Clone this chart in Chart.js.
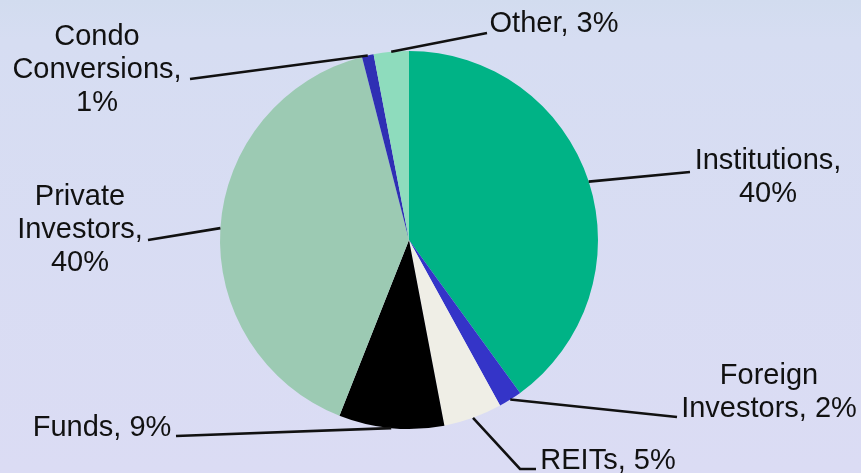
<!DOCTYPE html>
<html>
<head>
<meta charset="utf-8">
<script src="https://cdn.jsdelivr.net/npm/chart.js@4.4.0/dist/chart.umd.min.js"></script>
<style>
  html, body { margin: 0; padding: 0; }
  body {
    width: 861px; height: 473px; overflow: hidden;
    background: linear-gradient(to bottom, #d2dcef 0px, #d6ddf2 40px, #dbdcf4 473px);
  }
  canvas { display: block; }
</style>
</head>
<body>
<canvas id="pie" width="861" height="473"></canvas>
<script>
// slices, clockwise from 12 o'clock
const categories = ['Institutions', 'Foreign Investors', 'REITs', 'Funds', 'Private Investors', 'Condo Conversions', 'Other'];
const shares = [40, 2, 5, 9, 40, 1, 3];
const sliceColors = ['#00b386', '#3434c8', '#efeee6', '#000000', '#9ccab3', '#2f2fb4', '#8edcbd'];

// how many words go on each label line
const labelWrap = [[1, 1], [1, 2], [2], [2], [1, 1, 1], [1, 1, 1], [2]];

// label placement: text centre x, first line centre y, leader elbow points (text side first)
const labelLayout = [
  { x: 768, y: 161, path: [[690, 172]] },
  { x: 769, y: 376, path: [[677, 417]] },
  { x: 608, y: 461, path: [[536, 469], [520, 469]] },
  { x: 102, y: 428, path: [[176, 436]] },
  { x: 80,  y: 197, path: [[148, 240]] },
  { x: 97,  y: 37,  path: [[190, 79]] },
  { x: 554, y: 24,  path: [[487, 33]] }
];

const LINE_H = 33;

const leaderLabels = {
  id: 'leaderLabels',
  afterDatasetsDraw(chart) {
    const ctx = chart.ctx;
    const arcs = chart.getDatasetMeta(0).data;
    ctx.save();
    ctx.font = '29px "Liberation Sans", Arial, sans-serif';
    ctx.fillStyle = '#111111';
    ctx.strokeStyle = '#111111';
    ctx.lineWidth = 2.6;
    ctx.textAlign = 'center';
    ctx.textBaseline = 'middle';
    arcs.forEach((arc, i) => {
      const p = arc.getProps(['x', 'y', 'startAngle', 'endAngle', 'outerRadius'], true);
      const mid = (p.startAngle + p.endAngle) / 2;
      const ax = p.x + Math.cos(mid) * p.outerRadius;
      const ay = p.y + Math.sin(mid) * p.outerRadius;
      const lay = labelLayout[i];

      ctx.beginPath();
      ctx.moveTo(lay.path[0][0], lay.path[0][1]);
      for (let k = 1; k < lay.path.length; k++) ctx.lineTo(lay.path[k][0], lay.path[k][1]);
      ctx.lineTo(ax, ay);
      ctx.stroke();

      const words = (categories[i] + ', ' + shares[i] + '%').split(' ');
      let w = 0;
      labelWrap[i].forEach((n, li) => {
        const line = words.slice(w, w + n).join(' ');
        w += n;
        ctx.fillText(line, lay.x, lay.y + li * LINE_H);
      });
    });
    ctx.restore();
  }
};

new Chart(document.getElementById('pie'), {
  type: 'pie',
  data: {
    labels: categories,
    datasets: [{
      data: shares,
      backgroundColor: sliceColors,
      borderWidth: 0
    }]
  },
  options: {
    responsive: false,
    animation: false,
    layout: { padding: { left: 220, right: 263, top: 51, bottom: 44 } },
    plugins: {
      legend: { display: false },
      tooltip: { enabled: false }
    }
  },
  plugins: [leaderLabels]
});
</script>
</body>
</html>
